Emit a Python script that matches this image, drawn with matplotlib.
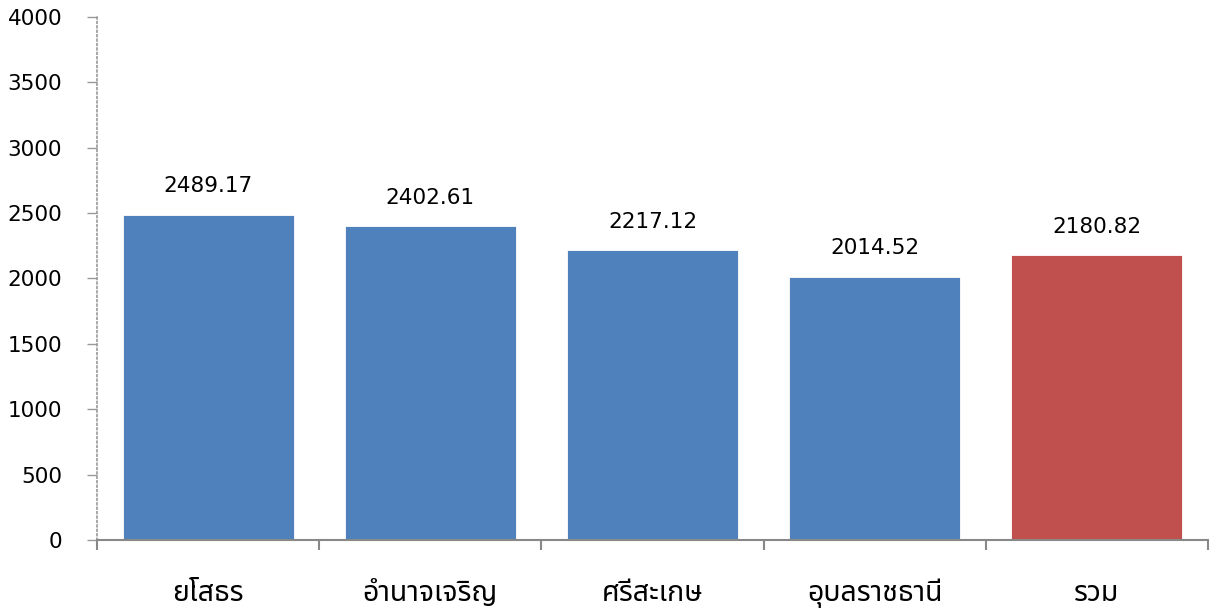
import matplotlib
matplotlib.use("Agg")
import matplotlib.pyplot as plt
import numpy as np

provinces = ["ยโสธร", "อำนาจเจริญ", "ศรีสะเกษ", "อุบลราชธานี", "รวม"]
values = [2489.17, 2402.61, 2217.12, 2014.52, 2180.82]
bar_colors = ["#4F81BD", "#4F81BD", "#4F81BD", "#4F81BD", "#C0504D"]
y_ticks = [0, 500, 1000, 1500, 2000, 2500, 3000, 3500, 4000]

thai_fonts = ["Noto Sans Thai", "Sarabun", "Bai Jamjuree", "DejaVu Sans"]
plt.rcParams["font.family"] = ["DejaVu Sans"] + thai_fonts[:-1]

fig = plt.figure(figsize=(12.18, 6.11), dpi=100)
ax = fig.add_axes([0.0796, 0.1162, 0.9122, 0.856])

x = np.arange(len(provinces))
ax.bar(x, values, width=0.77, color=bar_colors, edgecolor="white", linewidth=0.6)

for xi, v in zip(x, values):
    ax.text(xi, v + 140, "%.2f" % v, ha="center", va="bottom", fontsize=15.5)

ax.set_xlim(-0.5, len(provinces) - 0.5)
ax.set_ylim(0, 4000)
ax.set_yticks(y_ticks)
ax.set_yticklabels([str(t) for t in y_ticks], fontsize=15.5)

# category names at the bar centres, tick marks between categories
ax.set_xticks(x)
ax.set_xticklabels(provinces, fontsize=20.5, family=thai_fonts, fontweight="light")
ax.tick_params(axis="x", length=0, pad=28)
ax.set_xticks(np.arange(len(provinces) + 1) - 0.5, minor=True)
ax.tick_params(axis="x", which="minor", length=7, color="#888888", width=1.5)
ax.tick_params(axis="y", length=7, color="#999999", width=1, pad=18)

for s in ["top", "right"]:
    ax.spines[s].set_visible(False)
ax.spines["bottom"].set_color("#888888")
ax.spines["bottom"].set_linewidth(1.5)
ax.spines["left"].set_color("#999999")
ax.spines["left"].set_linestyle(":")
ax.spines["left"].set_linewidth(1.2)
for t in ax.yaxis.get_ticklines():
    t.set_linestyle(":")

fig.savefig("out.png", dpi=100)
